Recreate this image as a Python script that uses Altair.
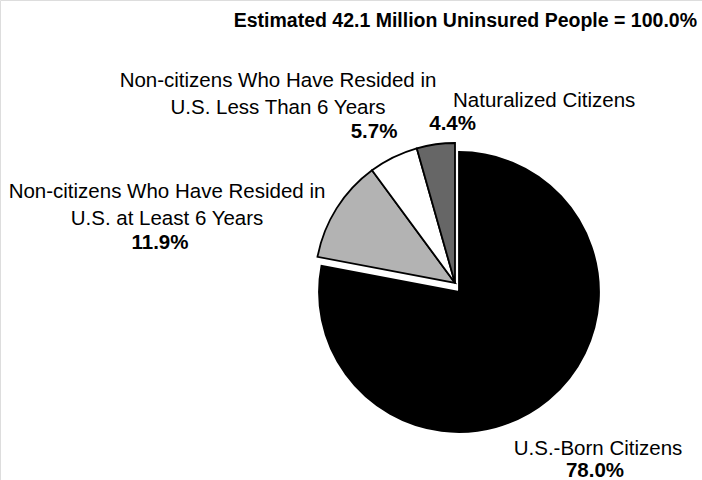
import altair as alt
import pandas as pd

# ---- data ----
categories = [
    "U.S.-Born Citizens",
    "Non-citizens Who Have Resided in U.S. at Least 6 Years",
    "Non-citizens Who Have Resided in U.S. Less Than 6 Years",
    "Naturalized Citizens",
]
shares = [78.0, 11.9, 5.7, 4.4]
label_lines = [
    ["U.S.-Born Citizens"],
    ["Non-citizens Who Have Resided in", "U.S. at Least 6 Years"],
    ["Non-citizens Who Have Resided in", "U.S. Less Than 6 Years"],
    ["Naturalized Citizens"],
]
pct_labels = ["78.0%", "11.9%", "5.7%", "4.4%"]
title_text = "Estimated 42.1 Million Uninsured People = 100.0%"

# ---- styles / layout ----
colors = ["#000000", "#b3b3b3", "#ffffff", "#666666"]
FONT = "Liberation Sans"
W, H = 702, 480
R = 140
main_center = (459, 292)
exploded_center = (455, 283)

label_pos = [  # (x, y, align) for name lines
    (598, 455, "center"),
    (167, 198, "center"),
    (278, 87, "center"),
    (453, 107, "left"),
]
pct_pos = [
    (595, 477, "center"),
    (160, 249, "center"),
    (374, 138, "center"),
    (476, 130, "right"),
]

df = pd.DataFrame({"cat": categories, "share": shares, "idx": list(range(len(categories)))})

color_scale = alt.Scale(domain=categories, range=colors)
base = alt.Chart(df)

def pie_layer(center, show_main):
    cond = (alt.datum.cat == categories[0]) if show_main else (alt.datum.cat != categories[0])
    return base.mark_arc(radius=R, stroke="black", strokeWidth=1.8).encode(
        theta=alt.Theta("share:Q", stack=True),
        order=alt.Order("idx:Q", sort="ascending"),
        color=alt.Color("cat:N", scale=color_scale, legend=None),
        opacity=alt.condition(cond, alt.value(1), alt.value(0)),
        x=alt.value(center[0]),
        y=alt.value(center[1]),
    )

layers = [pie_layer(main_center, True), pie_layer(exploded_center, False)]

one = alt.Chart(pd.DataFrame({"k": [0]}))
for i in range(len(categories)):
    lx, ly, la = label_pos[i]
    layers.append(
        one.mark_text(
            text=label_lines[i], x=lx, y=ly, align=la, baseline="alphabetic",
            font=FONT, fontSize=20.5, lineHeight=26.5, color="black",
        ).encode(opacity=alt.value(1))
    )
    px, py, pa = pct_pos[i]
    layers.append(
        one.mark_text(
            text=pct_labels[i], x=px, y=py, align=pa, baseline="alphabetic",
            font=FONT, fontSize=20.5, fontWeight="bold", color="black",
        ).encode(opacity=alt.value(1))
    )

layers.append(
    one.mark_text(
        text=title_text, x=697, y=27, align="right", baseline="alphabetic",
        font=FONT, fontSize=19.5, fontWeight="bold", color="black",
    ).encode(opacity=alt.value(1))
)

chart = alt.layer(*layers).properties(
    width=W, height=H, padding=0,
    autosize=alt.AutoSizeParams(type="none"),
).configure_view(stroke=None).configure(background="white")

chart.save("out.html", embed_options={"renderer": "svg", "actions": False})
